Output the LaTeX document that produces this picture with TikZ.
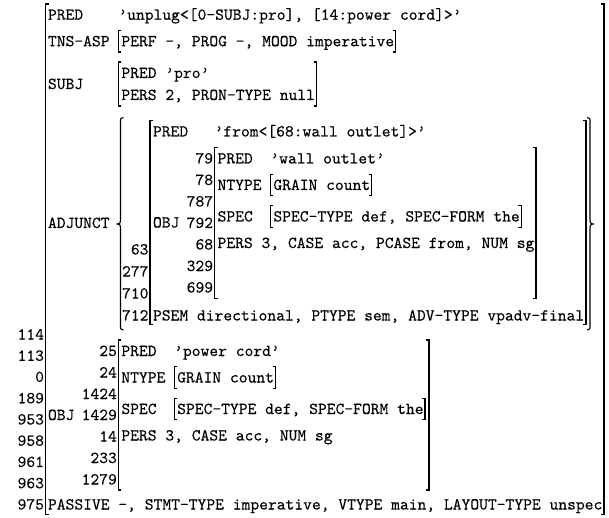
\documentclass[tikz,border=0pt]{standalone}
\usepackage{fontspec}
\newfontfamily\fsfont{lmmono10-regular.otf}[FakeBold=0.15]
\tikzset{
  fstext/.style={font=\fsfont\fontsize{16.76}{19}\selectfont, inner sep=0pt, outer sep=0pt},
  brk/.style={line width=1.1pt, line cap=butt, line join=miter}
}
% text line: name, x, vertical centre, text
\newcommand\fsl[4]{\node[fstext,anchor=base west] (#1) at (#2,{#3+5}) {#4};}
% f-structure id, right aligned: name, right edge, vertical centre, text
\newcommand\fsid[4]{\node[fstext,anchor=base east] (#1) at (#2,{#3+5}) {#4};}
% square brackets: x, top, bottom
\newcommand\lbrk[3]{\draw[brk] ({#1+3},#2) -- (#1,#2) -- (#1,#3) -- ({#1+3},#3);}
\newcommand\rbrk[3]{\draw[brk] ({#1-3},#2) -- (#1,#2) -- (#1,#3) -- ({#1-3},#3);}
\begin{document}
\begin{tikzpicture}[x=1pt,y=-1pt]
\useasboundingbox[fill=white] (0,0) rectangle (609,518);

% outer f-structure
\lbrk{45.5}{4}{514.5}
\rbrk{604}{4}{514.5}
\fsl{pred}{48}{14.75}{PRED}
\fsl{predv}{118.4}{14.75}{’unplug<[0-SUBJ:pro], [14:power cord]>’}

\fsl{tns}{48}{41.25}{TNS-ASP}
\lbrk{118.4}{30.5}{52}
\fsl{tnsv}{121.4}{41.25}{PERF -, PROG -, MOOD imperative}
\rbrk{395.7}{30.5}{52}

\fsl{subj}{48}{84}{SUBJ}
\lbrk{118.4}{62}{106}
\fsl{subjpred}{121.4}{73}{PRED ’pro’}
\fsl{subjpers}{121.4}{95}{PERS 2, PRON-TYPE null}
\rbrk{316.5}{62}{106}

% ADJUNCT set
\fsl{adj}{48}{223}{ADJUNCT}
\draw[brk] (123.5,117.5) .. controls (120.5,117.5) and (120.5,118.5) .. (120.5,122.5)
  -- (120.5,220) .. controls (120.5,223) .. (117.3,224)
  .. controls (120.5,225) .. (120.5,228) -- (120.5,325)
  .. controls (120.5,329) and (120.5,330) .. (123.5,330);
\draw[brk] (587,117.5) .. controls (590,117.5) and (590,118.5) .. (590,122.5)
  -- (590,220) .. controls (590,223) .. (593.2,224)
  .. controls (590,225) .. (590,228) -- (590,325)
  .. controls (590,329) and (590,330) .. (587,330);

% PP f-structure
\lbrk{150}{120.5}{324.5}
\rbrk{586}{120.5}{324.5}
\fsid{i63}{148.5}{249.5}{63}
\fsid{i277}{148.5}{271.5}{277}
\fsid{i710}{148.5}{293.5}{710}
\fsid{i712}{148.5}{315.5}{712}
\fsl{pppred}{153}{131.5}{PRED}
\fsl{pppredv}{214.6}{131.5}{’from<[68:wall outlet]>’}
\fsl{ppobj}{153}{222.5}{OBJ}
\fsl{ppsem}{153}{315.5}{PSEM directional, PTYPE sem, ADV-TYPE vpadv-final}

% wall outlet
\lbrk{214.6}{147.5}{298.5}
\rbrk{536}{147.5}{298.5}
\fsid{i79}{213.1}{158.5}{79}
\fsid{i78}{213.1}{180}{78}
\fsid{i787}{213.1}{201.5}{787}
\fsid{i792}{213.1}{223}{792}
\fsid{i68}{213.1}{244.5}{68}
\fsid{i329}{213.1}{266}{329}
\fsid{i699}{213.1}{287.5}{699}
\fsl{wpred}{217.6}{158.5}{PRED}
\fsl{wpredv}{270.4}{158.5}{’wall outlet’}
\fsl{wntype}{217.6}{185}{NTYPE}
\lbrk{270.4}{174.25}{195.75}
\fsl{wntypev}{273.4}{185}{GRAIN count}
\rbrk{371.7}{174.25}{195.75}
\fsl{wspec}{217.6}{216.5}{SPEC}
\lbrk{270.4}{205.75}{227.25}
\fsl{wspecv}{273.4}{216.5}{SPEC-TYPE def, SPEC-FORM the}
\rbrk{521.3}{205.75}{227.25}
\fsl{wpers}{217.6}{243}{PERS 3, CASE acc, PCASE from, NUM sg}

% OBJ: power cord
\fsl{obj}{48}{415}{OBJ}
\lbrk{118.4}{340}{490}
\rbrk{429}{340}{490}
\fsid{i25}{116.9}{351}{25}
\fsid{i24}{116.9}{372.5}{24}
\fsid{i1424}{116.9}{394}{1424}
\fsid{i1429}{116.9}{415}{1429}
\fsid{i14}{116.9}{436.5}{14}
\fsid{i233}{116.9}{458}{233}
\fsid{i1279}{116.9}{479.5}{1279}
\fsl{opred}{121.4}{351}{PRED}
\fsl{opredv}{174.2}{351}{’power cord’}
\fsl{ontype}{121.4}{377.5}{NTYPE}
\lbrk{174.2}{366.75}{388.25}
\fsl{ontypev}{177.2}{377.5}{GRAIN count}
\rbrk{275.5}{366.75}{388.25}
\fsl{ospec}{121.4}{409}{SPEC}
\lbrk{174.2}{398.25}{419.75}
\fsl{ospecv}{177.2}{409}{SPEC-TYPE def, SPEC-FORM the}
\rbrk{425}{398.25}{419.75}
\fsl{opers}{121.4}{435.5}{PERS 3, CASE acc, NUM sg}

% last line and outer ids
\fsl{passive}{48}{504.5}{PASSIVE -, STMT-TYPE imperative, VTYPE main, LAYOUT-TYPE unspec}
\fsid{i114}{44}{334.5}{114}
\fsid{i113}{44}{355.75}{113}
\fsid{i0}{44}{377}{0}
\fsid{i189}{44}{398.25}{189}
\fsid{i953}{44}{419.5}{953}
\fsid{i958}{44}{440.75}{958}
\fsid{i961}{44}{462}{961}
\fsid{i963}{44}{483.25}{963}
\fsid{i975}{44}{504.5}{975}
\end{tikzpicture}
\end{document}
